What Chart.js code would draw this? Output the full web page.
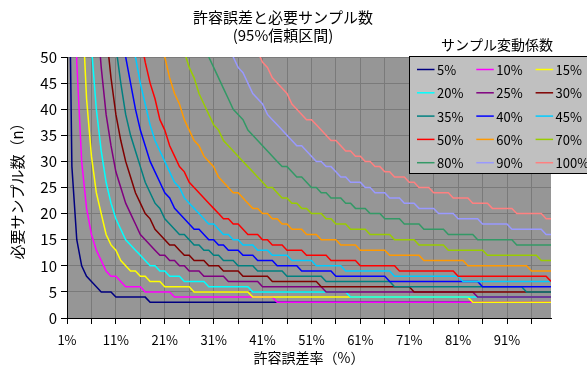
<!DOCTYPE html>
<html>
<head>
<meta charset="utf-8">
<script src="https://cdn.jsdelivr.net/npm/chart.js@4.4.1/dist/chart.umd.min.js"></script>
<style>
  html, body { margin: 0; padding: 0; background: #ffffff; }
  #wrap { width: 587px; height: 371px; }
</style>
</head>
<body>
<div id="wrap"><canvas id="chart" width="587" height="371"></canvas></div>
<script>
// 許容誤差率 (%) : categories on the x axis
const errorRates = [
  1,2,3,4,5,6,7,8,9,10, 11,12,13,14,15,16,17,18,19,20,
  21,22,23,24,25,26,27,28,29,30, 31,32,33,34,35,36,37,38,39,40,
  41,42,43,44,45,46,47,48,49,50, 51,52,53,54,55,56,57,58,59,60,
  61,62,63,64,65,66,67,68,69,70, 71,72,73,74,75,76,77,78,79,80,
  81,82,83,84,85,86,87,88,89,90, 91,92,93,94,95,96,97,98,99,100
];

// サンプル変動係数 : series names
const cvLabels = ['5%','10%','15%','20%','25%','30%','35%','40%','45%','50%','60%','70%','80%','90%','100%'];

// 必要サンプル数 for each coefficient of variation (one value per error rate)
const cv05 = [
  101,29,15,10,8,7,6,5,5,5, 4,4,4,4,4,4,4,3,3,3,
  3,3,3,3,3,3,3,3,3,3, 3,3,3,3,3,3,3,3,3,3,
  3,3,3,3,3,3,3,3,3,3, 3,3,3,3,3,3,3,3,3,3,
  3,3,3,3,3,3,3,3,3,3, 3,3,3,3,3,3,3,3,3,3,
  3,3,3,3,3,3,3,3,3,3, 3,3,3,3,3,3,3,3,3,3
];
const cv10 = [
  403,104,49,30,21,16,13,11,9,8, 8,7,6,6,6,6,5,5,5,5,
  5,5,4,4,4,4,4,4,4,4, 4,4,4,4,4,4,4,4,4,4,
  4,4,4,3,3,3,3,3,3,3, 3,3,3,3,3,3,3,3,3,3,
  3,3,3,3,3,3,3,3,3,3, 3,3,3,3,3,3,3,3,3,3,
  3,3,3,3,3,3,3,3,3,3, 3,3,3,3,3,3,3,3,3,3
];
const cv15 = [
  905,232,106,62,42,31,24,20,16,14, 13,11,10,9,9,8,8,7,7,7,
  6,6,6,6,6,6,5,5,5,5, 5,5,5,5,5,5,5,5,4,4,
  4,4,4,4,4,4,4,4,4,4, 4,4,4,4,4,4,4,4,4,4,
  4,4,4,4,4,4,4,4,4,4, 4,4,4,4,4,4,4,4,4,4,
  4,4,4,3,3,3,3,3,3,3, 3,3,3,3,3,3,3,3,3,3
];
const cv20 = [
  1610,410,187,108,72,52,40,32,26,22, 19,17,15,14,13,12,11,10,10,9,
  9,8,8,8,7,7,7,7,7,6, 6,6,6,6,6,6,6,6,5,5,
  5,5,5,5,5,5,5,5,5,5, 5,5,5,5,5,5,5,5,4,4,
  4,4,4,4,4,4,4,4,4,4, 4,4,4,4,4,4,4,4,4,4,
  4,4,4,4,4,4,4,4,4,4, 4,4,4,4,4,4,4,4,4,4
];
const cv25 = [
  2510,640,291,167,110,78,60,48,39,33, 28,25,22,20,18,16,15,14,13,12,
  12,11,11,10,10,9,9,9,8,8, 8,8,8,7,7,7,7,7,7,7,
  6,6,6,6,6,6,6,6,6,6, 6,6,6,5,5,5,5,5,5,5,
  5,5,5,5,5,5,5,5,5,5, 5,5,5,5,5,5,5,5,5,5,
  5,5,5,5,4,4,4,4,4,4, 4,4,4,4,4,4,4,4,4,4
];
const cv30 = [
  3615,925,420,241,157,112,84,66,55,46, 39,34,30,27,24,22,20,19,17,16,
  15,14,14,13,12,12,11,11,11,10, 10,10,9,9,9,9,8,8,8,8,
  8,8,7,7,7,7,7,7,7,7, 7,7,6,6,6,6,6,6,6,6,
  6,6,6,6,6,6,6,6,6,6, 6,5,5,5,5,5,5,5,5,5,
  5,5,5,5,5,5,5,5,5,5, 5,5,5,5,5,5,5,5,5,5
];
const cv35 = [
  4920,1255,570,327,214,152,114,89,72,60, 52,45,39,35,32,29,26,24,22,21,
  19,18,17,16,16,15,14,14,13,13, 12,12,11,11,11,10,10,10,10,9,
  9,9,9,9,9,8,8,8,8,8, 8,8,8,7,7,7,7,7,7,7,
  7,7,7,7,7,7,7,6,6,6, 6,6,6,6,6,6,6,6,6,6,
  6,6,6,6,6,6,6,6,6,6, 6,6,6,6,5,5,5,5,5,5
];
const cv40 = [
  6425,1640,745,428,280,198,148,116,94,78, 66,57,50,45,40,36,33,30,28,26,
  24,23,21,20,19,18,17,17,16,15, 15,14,14,13,13,13,12,12,12,11,
  11,11,11,10,10,10,10,10,9,9, 9,9,9,9,9,8,8,8,8,8,
  8,8,8,8,8,8,7,7,7,7, 7,7,7,7,7,7,7,7,7,7,
  7,7,7,7,7,6,6,6,6,6, 6,6,6,6,6,6,6,6,6,6
];
const cv45 = [
  8130,2075,940,540,353,250,187,146,118,97, 82,71,62,55,50,45,41,37,34,32,
  30,28,26,25,23,22,21,20,19,18, 18,17,16,16,15,15,14,14,14,13,
  13,13,12,12,12,12,11,11,11,11, 11,10,10,10,10,10,10,9,9,9,
  9,9,9,9,9,9,9,8,8,8, 8,8,8,8,8,8,8,8,8,8,
  8,7,7,7,7,7,7,7,7,7, 7,7,7,7,7,7,7,7,7,7
];
const cv50 = [
  10000,2560,1160,667,436,309,232,181,146,121, 102,88,76,67,60,54,49,45,42,38,
  36,33,31,29,28,26,25,24,23,22, 21,20,19,19,18,18,17,16,16,16,
  15,15,14,14,14,13,13,13,13,12, 12,12,12,12,11,11,11,11,11,11,
  10,10,10,10,10,10,10,10,9,9, 9,9,9,9,9,9,9,9,9,9,
  8,8,8,8,8,8,8,8,8,8, 8,8,8,8,8,8,8,8,8,7
];
const cv60 = [
  14500,3700,1680,960,625,440,330,258,208,172, 145,124,108,95,84,75,68,62,57,54,
  50,46,43,41,38,36,34,33,31,30, 29,27,26,25,24,24,23,22,21,21,
  20,20,19,19,18,18,17,17,17,16, 16,16,15,15,15,15,14,14,14,14,
  13,13,13,13,13,13,12,12,12,12, 12,12,12,11,11,11,11,11,11,11,
  11,11,10,10,10,10,10,10,10,10, 10,10,10,10,10,9,9,9,9,9
];
const cv70 = [
  20000,5100,2310,1325,865,612,458,357,288,238, 200,172,149,131,116,104,93,85,77,71,
  66,61,57,54,51,48,46,43,41,39, 37,36,34,33,32,31,30,29,28,27,
  26,25,25,24,23,23,22,22,21,21, 20,20,20,19,19,18,18,18,17,17,
  17,17,16,16,16,16,16,15,15,15, 15,15,14,14,14,14,14,14,13,13,
  13,13,13,13,13,13,12,12,12,12, 12,12,12,12,12,12,12,11,11,11
];
const cv80 = [
  26100,6660,3020,1730,1130,800,600,467,376,311, 262,224,195,171,152,136,122,111,101,93,
  86,80,74,69,65,61,58,55,53,50, 48,46,44,42,40,39,38,36,35,34,
  33,32,31,30,29,29,28,27,27,26, 25,25,24,24,23,23,23,22,22,21,
  21,21,20,20,20,19,19,19,19,18, 18,18,18,17,17,17,17,17,16,16,
  16,16,16,16,15,15,15,15,15,15, 15,15,14,14,14,14,14,14,14,14
];
const cv90 = [
  33050,8430,3820,2190,1430,1010,758,591,476,393, 331,283,246,216,191,171,154,140,128,118,
  109,101,94,88,82,77,73,69,65,62, 59,57,54,52,50,48,47,45,43,42,
  41,39,38,37,36,35,34,33,33,32, 31,30,30,29,29,28,27,27,26,26,
  26,25,25,24,24,24,23,23,23,22, 22,22,21,21,21,21,20,20,20,20,
  19,19,19,19,19,18,18,18,18,18, 18,17,17,17,17,17,17,17,16,16
];
const cv100 = [
  40800,10400,4715,2705,1765,1250,935,730,588,485, 408,350,303,266,236,211,190,173,158,145,
  134,124,115,108,101,95,90,85,80,76, 73,69,66,63,61,58,57,55,53,51,
  49,48,46,45,44,43,41,40,39,38, 38,37,36,35,34,34,33,32,32,31,
  31,30,30,29,29,28,28,27,27,27, 26,26,25,25,25,24,24,24,24,23,
  23,23,23,22,22,22,22,21,21,21, 21,21,20,20,20,20,20,20,19,19
];

// axis ticks
const xTickValues = [1,6,11,16,21,26,31,36,41,46,51,56,61,66,71,76,81,86,91,96];
const xTickLabels = ['1%','11%','21%','31%','41%','51%','61%','71%','81%','91%'];
const yTickValues = [0,5,10,15,20,25,30,35,40,45,50];

const seriesValues = [cv05, cv10, cv15, cv20, cv25, cv30, cv35, cv40, cv45, cv50, cv60, cv70, cv80, cv90, cv100];
const seriesColors = ['#000080','#ff00ff','#ffff00','#00ffff','#800080','#800000','#008080','#0000ff',
                      '#00ccff','#ff0000','#ff9900','#99cc00','#339966','#9999ff','#ff8080'];

const FONT = '"Noto Sans CJK JP", "Noto Sans", sans-serif';

const datasets = seriesValues.map((vals, i) => ({
  label: cvLabels[i],
  data: vals.map((v, j) => ({ x: errorRates[j], y: v })),
  borderColor: seriesColors[i],
  backgroundColor: seriesColors[i],
  borderWidth: 1.5,
  pointRadius: 0,
  tension: 0,
  fill: false,
  order: seriesValues.length - i   // later series are painted over earlier ones
}));

// plot background, titles, axis titles and the boxed legend
const chartDecor = {
  id: 'chartDecor',
  beforeDraw(chart) {
    const { ctx, chartArea: a } = chart;
    ctx.save();
    ctx.fillStyle = '#969696';
    ctx.fillRect(a.left, a.top, a.right - a.left, a.bottom - a.top);
    ctx.restore();
  },
  afterDraw(chart) {
    const { ctx, chartArea: a } = chart;
    ctx.save();
    ctx.fillStyle = '#000';
    ctx.textAlign = 'center';
    ctx.textBaseline = 'middle';

    ctx.font = '15px ' + FONT;
    ctx.fillText('許容誤差と必要サンプル数', 283, 17);
    ctx.fillText('(95%信頼区間)', 283, 35);

    ctx.font = '14px ' + FONT;
    ctx.fillText('許容誤差率（%）', (a.left + a.right) / 2, 358);

    ctx.save();
    ctx.font = '15px ' + FONT;
    ctx.translate(17, (a.top + a.bottom) / 2);
    ctx.rotate(-Math.PI / 2);
    ctx.fillText('必要サンプル数（n）', 0, 0);
    ctx.restore();

    // legend
    ctx.font = '14px ' + FONT;
    ctx.fillText('サンプル変動係数', 497, 45);

    const lx = 409.5, ly = 56.5;
    ctx.fillStyle = '#c0c0c0';
    ctx.fillRect(lx, ly, 200, 117);
    ctx.strokeStyle = '#000';
    ctx.lineWidth = 1;
    ctx.strokeRect(lx, ly, 200, 117);

    ctx.font = '13px ' + FONT;
    ctx.textAlign = 'left';
    chart.data.datasets.forEach((ds, i) => {
      const col = i % 3, row = Math.floor(i / 3);
      const x = 417 + col * 59.3;
      const y = 69.5 + row * 23.3;
      ctx.strokeStyle = ds.borderColor;
      ctx.lineWidth = 1.5;
      ctx.beginPath();
      ctx.moveTo(x, y);
      ctx.lineTo(x + 17.5, y);
      ctx.stroke();
      ctx.fillStyle = '#000';
      ctx.fillText(ds.label, x + 20, y + 0.5);
    });
    ctx.restore();
  }
};

new Chart(document.getElementById('chart'), {
  type: 'line',
  data: { datasets },
  options: {
    responsive: false,
    animation: false,
    events: [],
    layout: { padding: { left: 0, top: 57, right: 36, bottom: 0 } },
    plugins: { legend: { display: false }, title: { display: false }, tooltip: { enabled: false } },
    scales: {
      x: {
        type: 'linear',
        min: 1,
        max: 100,
        afterBuildTicks: s => { s.ticks = xTickValues.map(v => ({ value: v })); },
        afterFit: s => { s.height = 53; },
        ticks: {
          autoSkip: false,
          maxRotation: 0,
          padding: 8,
          color: '#000',
          font: { family: FONT, size: 13 },
          callback: v => xTickLabels.find(l => parseInt(l, 10) === v) || ''
        },
        grid: {
          color: c => (c.tick && c.tick.value === 1 ? 'rgba(0,0,0,0)' : '#7a7a7a'),
          tickColor: '#000',
          tickLength: 6,
          lineWidth: 1
        },
        border: { color: '#000', width: 1 }
      },
      y: {
        type: 'linear',
        min: 0,
        max: 50,
        afterBuildTicks: s => { s.ticks = yTickValues.map(v => ({ value: v })); },
        afterFit: s => { s.width = 67; },
        ticks: {
          padding: 4,
          color: '#000',
          font: { family: FONT, size: 15 }
        },
        grid: {
          color: c => (c.tick && c.tick.value === 0 ? 'rgba(0,0,0,0)' : '#7a7a7a'),
          tickColor: '#000',
          tickLength: 6,
          lineWidth: 1
        },
        border: { color: '#000', width: 1 }
      }
    }
  },
  plugins: [chartDecor]
});
</script>
</body>
</html>
